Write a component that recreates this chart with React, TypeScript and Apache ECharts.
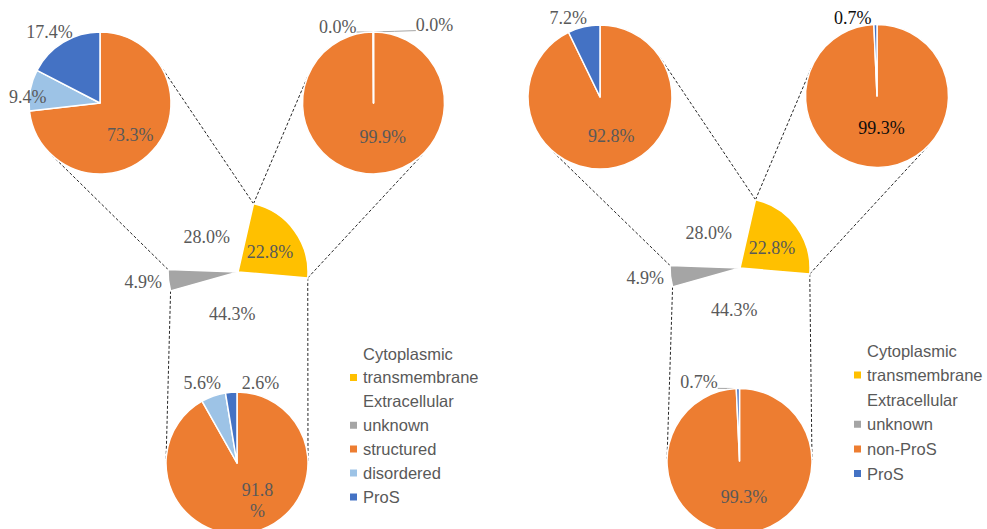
import React, { useEffect, useRef } from 'react';
import * as echarts from 'echarts';

// Shares of the main (localisation) pie, in percent
const centerNames = ['Cytoplasmic', 'transmembrane', 'Extracellular', 'unknown'];
const centerShares = [28.0, 22.8, 44.3, 4.9];

// Left panel: structural breakdown of each compartment
const leftNames = ['structured', 'disordered', 'ProS'];
const leftCytoplasmic = [73.3, 9.4, 17.4];
const leftTransmembrane = [99.9, 0.04, 0.04];
const leftExtracellular = [91.8, 5.6, 2.6];

// Right panel: ProS vs non-ProS of each compartment
const rightNames = ['non-ProS', 'ProS'];
const rightCytoplasmic = [92.8, 7.2];
const rightTransmembrane = [99.3, 0.7];
const rightExtracellular = [99.3, 0.7];

const leftLegend = ['Cytoplasmic', 'transmembrane', 'Extracellular', 'unknown', 'structured', 'disordered', 'ProS'];
const rightLegend = ['Cytoplasmic', 'transmembrane', 'Extracellular', 'unknown', 'non-ProS', 'ProS'];

const COLORS: Record<string, string> = {
  Cytoplasmic: '#ffffff',
  transmembrane: '#FFC000',
  Extracellular: '#ffffff',
  unknown: '#A5A5A5',
  structured: '#ED7D31',
  'non-ProS': '#ED7D31',
  disordered: '#9DC3E6',
  ProS: '#4472C4',
};
const HIDDEN = new Set(['Cytoplasmic', 'Extracellular']);

const SERIF = "'Liberation Serif', 'Times New Roman', serif";
const SANS = "'Liberation Sans', Arial, sans-serif";
const GREY_TEXT = '#595959';

type Pt = [number, number];
type PieGeom = { c: Pt; r: number; start: number }; // start: degrees clockwise from 12 o'clock
type Spot = { k: number; shift: number; lead?: boolean; wrap?: number };

const rad = (d: number) => (d * Math.PI) / 180;
const onCircle = (c: Pt, r: number, theta: number): Pt => [
  c[0] + r * Math.sin(rad(theta)),
  c[1] - r * Math.cos(rad(theta)),
];

function boundaries(values: number[], start: number): number[] {
  const total = values.reduce((a, b) => a + b, 0);
  const out = [start];
  let acc = start;
  values.forEach((v) => {
    acc += (v / total) * 360;
    out.push(acc);
  });
  return out;
}

// Tangent point on circle (c, r) seen from p; side picks one of the two
function tangent(p: Pt, c: Pt, r: number, side: number): Pt {
  const dx = p[0] - c[0];
  const dy = p[1] - c[1];
  const d = Math.hypot(dx, dy);
  const phi = Math.atan2(dy, dx);
  const a = Math.acos(r / d);
  const t = phi + side * a;
  return [c[0] + r * Math.cos(t), c[1] + r * Math.sin(t)];
}

const PANELS = [
  {
    main: { c: [238, 272] as Pt, r: 70, start: 272 },
    tl: { c: [100, 103] as Pt, r: 71, start: 0 },
    tr: { c: [373.5, 103] as Pt, r: 71, start: 0 },
    bottom: { c: [237, 463] as Pt, r: 71, start: 0 },
  },
  {
    main: { c: [740, 268] as Pt, r: 70, start: 272 },
    tl: { c: [600, 97] as Pt, r: 72, start: 0 },
    tr: { c: [877, 96] as Pt, r: 71.5, start: 0 },
    bottom: { c: [739.5, 461] as Pt, r: 72.5, start: 0 },
  },
];

function pieSeries(
  geom: PieGeom,
  names: string[],
  values: number[],
  spots: Spot[],
  textColor: string = GREY_TEXT
) {
  const b = boundaries(values, geom.start);
  return {
    type: 'pie',
    center: geom.c,
    radius: geom.r,
    startAngle: (((90 - geom.start) % 360) + 360) % 360,
    clockwise: true,
    avoidLabelOverlap: false,
    silent: true,
    emphasis: { disabled: true },
    label: {
      show: true,
      position: 'inside',
      fontFamily: SERIF,
      fontSize: 18,
      color: textColor,
      formatter: (p: any) => `${Number(p.value).toFixed(1)}%`,
    },
    labelLine: { show: false },
    data: names.map((n, i) => {
      const s = spots[i];
      const item: any = {
        name: n,
        value: values[i],
        itemStyle: {
          color: COLORS[n],
          borderColor: '#ffffff',
          borderWidth: HIDDEN.has(n) ? 0 : 1.5,
        },
      };
      if (s.lead) {
        item.label = { position: 'outside' };
        item.labelLine = { show: true, length: 4, length2: 4, lineStyle: { color: '#A6A6A6', width: 1 } };
      }
      if (s.wrap) {
        item.label = { width: s.wrap, overflow: 'breakAll', lineHeight: 21, align: 'center' };
      }
      return item;
    }),
    labelLayout: (params: any) => {
      const i = params.dataIndex;
      const s = spots[i];
      const mid = (b[i] + b[i + 1]) / 2;
      const [x, y] = onCircle(geom.c, geom.r * s.k, mid + s.shift);
      const out: any = { x, y, align: 'center', verticalAlign: 'middle' };
      if (s.lead) {
        const w = params.labelRect.width;
        const h = params.labelRect.height;
        const p0 = onCircle(geom.c, geom.r, mid);
        const ex = Math.min(Math.max(p0[0], x - w / 2), x + w / 2);
        const ey = Math.min(Math.max(p0[1], y - h / 2 + 3), y + h / 2 - 3);
        out.labelLinePoints = [p0, [(p0[0] + ex) / 2, (p0[1] + ey) / 2], [ex, ey]];
      }
      return out;
    },
  };
}

const centerSpots: Spot[] = [
  { k: 0.675, shift: -4 },
  { k: 0.54, shift: 4 },
  { k: 0.61, shift: 13 },
  { k: 1.36, shift: 1 },
];

function buildOption() {
  const [L, R] = PANELS;
  const series = [
    pieSeries(L.main, centerNames, centerShares, centerSpots),
    pieSeries(L.tl, leftNames, leftCytoplasmic, [
      { k: 0.62, shift: 5 },
      { k: 1.02, shift: -6 },
      { k: 1.23, shift: -4 },
    ]),
    pieSeries(L.tr, leftNames, leftTransmembrane, [
      { k: 0.5, shift: -15 },
      { k: 1.18, shift: -25, lead: true },
      { k: 1.4, shift: 38, lead: true },
    ]),
    pieSeries(L.bottom, leftNames, leftExtracellular, [
      { k: 0.6, shift: -14, wrap: 36 },
      { k: 1.23, shift: -4 },
      { k: 1.18, shift: 21 },
    ]),
    pieSeries(R.main, centerNames, centerShares, centerSpots),
    pieSeries(R.tl, rightNames, rightCytoplasmic, [
      { k: 0.565, shift: -3 },
      { k: 1.18, shift: -9 },
    ]),
    pieSeries(
      R.tr,
      rightNames,
      rightTransmembrane,
      [
        { k: 0.45, shift: -7 },
        { k: 1.14, shift: -16 },
      ],
      '#0d0d0d'
    ),
    pieSeries(R.bottom, rightNames, rightExtracellular, [
      { k: 0.5, shift: -6 },
      { k: 1.22, shift: -26, lead: true },
    ]),
  ];

  // Dashed connectors from the main pie's slice edges to the breakdown pies
  const graphics: any[] = [];
  PANELS.forEach((panel) => {
    const b = boundaries(centerShares, panel.main.start);
    const pt = (theta: number) => onCircle(panel.main.c, panel.main.r, theta);
    const links: [Pt, PieGeom, number][] = [
      [pt(b[0]), panel.tl, 1],
      [pt(b[1]), panel.tl, -1],
      [pt(b[1]), panel.tr, 1],
      [pt(b[2]), panel.tr, -1],
      [pt(b[3]), panel.bottom, -1],
      [pt(b[2]), panel.bottom, 1],
    ];
    links.forEach(([p, pie, side]) => {
      const q = tangent(p, pie.c, pie.r, side);
      graphics.push({
        type: 'line',
        silent: true,
        shape: { x1: p[0], y1: p[1], x2: q[0], y2: q[1] },
        style: { stroke: '#262626', lineWidth: 1, lineDash: [3, 2] },
      });
    });
  });

  const legendBase = {
    orient: 'vertical',
    icon: 'rect',
    itemWidth: 9,
    itemHeight: 9,
    padding: 0,
    selectedMode: false,
    textStyle: { fontFamily: SANS, fontSize: 16.5, color: GREY_TEXT, lineHeight: 16 },
  };

  return {
    animation: false,
    backgroundColor: '#ffffff',
    legend: [
      { ...legendBase, left: 348, top: 345, itemGap: 6.9, data: leftLegend },
      { ...legendBase, left: 852, top: 342, itemGap: 7.6, data: rightLegend },
    ],
    graphic: graphics,
    series,
  };
}

export default function App() {
  const ref = useRef<HTMLDivElement>(null);
  useEffect(() => {
    if (!ref.current) return;
    const chart = echarts.init(ref.current, undefined, { renderer: 'svg' });
    chart.setOption(buildOption() as any);
    return () => chart.dispose();
  }, []);
  return (
    <div
      ref={ref}
      style={{ position: 'fixed', left: 0, top: 0, width: 987, height: 529, background: '#ffffff' }}
    />
  );
}
